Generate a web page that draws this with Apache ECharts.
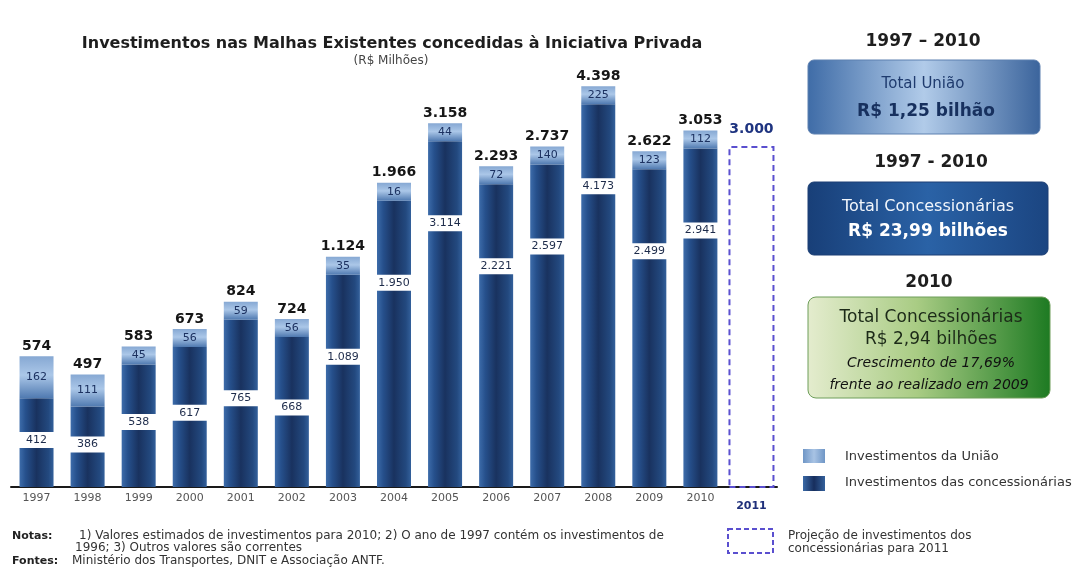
<!DOCTYPE html>
<html><head><meta charset="utf-8">
<script src="https://cdn.jsdelivr.net/npm/echarts@6/dist/echarts.min.js"></script>
<style>html,body{margin:0;padding:0;background:#fff}#c{width:1081px;height:573px}</style>
</head><body><div id="c"></div>
<script>
// ---- data (R$ milhões) ----
const years = ['1997','1998','1999','2000','2001','2002','2003','2004','2005','2006','2007','2008','2009','2010','2011'];
const concessionarias = [412,386,538,617,765,668,1089,1950,3114,2221,2597,4173,2499,2941,null];
const uniao = [162,111,45,56,59,56,35,16,44,72,140,225,123,112,null];
const projecao2011 = [null,null,null,null,null,null,null,null,null,null,null,null,null,null,3000];

const fmt = v => String(v).replace(/\B(?=(\d{3})+(?!\d))/g, '.');
const totals = concessionarias.map((c, i) => c == null ? null : c + uniao[i]);

const W = 1081, H = 573;
const GRID = {left: 11, right: 304, top: 44, bottom: 86};
const BASE_Y = H - GRID.bottom;
const FONT = '"DejaVu Sans", Verdana, sans-serif';
const UNIAO_MIN_H = 18;

const darkFill = new echarts.graphic.LinearGradient(0, 0, 1, 0, [
  {offset: 0, color: '#3d6caa'}, {offset: 0.18, color: '#26508c'},
  {offset: 0.5, color: '#19325f'}, {offset: 0.85, color: '#23497f'}, {offset: 1, color: '#33609b'}]);
const lightFill = new echarts.graphic.LinearGradient(0, 0, 0, 1, [
  {offset: 0, color: '#86a8d3'}, {offset: 0.45, color: '#abc7e8'}, {offset: 1, color: '#4f79b0'}]);
const ghost = {color: 'rgba(0,0,0,0)'};

const chart = echarts.init(document.getElementById('c'), null, {renderer: 'canvas'});

const option = {
  backgroundColor: '#ffffff',
  animation: false,
  textStyle: {fontFamily: FONT},
  title: [
    {text: 'Investimentos nas Malhas Existentes concedidas à Iniciativa Privada', left: 387, top: 31, textAlign: 'center',
     textStyle: {fontFamily: FONT, fontSize: 16, fontWeight: 'bold', color: '#1e1e1e'}},
    {text: '(R$ Milhões)', left: 386, top: 50, textAlign: 'center',
     textStyle: {fontFamily: FONT, fontSize: 12, fontWeight: 'normal', color: '#444'}}
  ],
  grid: GRID,
  xAxis: [
    {type: 'category', data: years, axisTick: {show: false},
     axisLine: {lineStyle: {color: '#1a1a1a', width: 2}},
     axisLabel: {interval: 0, margin: 6, fontSize: 11, color: '#555', fontFamily: FONT,
       formatter: v => v === '2011' ? '{p|' + v + '}' : v,
       rich: {p: {fontSize: 11, fontWeight: 'bold', color: '#1f2f7a', fontFamily: FONT, padding: [8, 0, 0, 0]}}}},
    {type: 'category', data: years, show: false},
    {type: 'category', data: years, show: false}
  ],
  yAxis: {type: 'log', logBase: 10, min: 205, max: 6700, show: false, splitLine: {show: false}},
  series: [
    {name: 'Investimentos das concessionárias', type: 'bar', stack: 't', barWidth: 34, data: concessionarias,
     itemStyle: {color: darkFill},
     label: {show: true, formatter: p => fmt(p.value), fontSize: 11, color: '#1d2b4a', fontFamily: FONT,
       backgroundColor: '#ffffff', width: 38, align: 'center', padding: [3, 0, 2, 0]},
     labelLayout: function (p) {
       const top = p.rect.y;
       const bottom = Math.min(p.rect.y + p.rect.height, BASE_Y);
       const d = Math.min((bottom - top) * 0.47, 82);
       return {x: p.rect.x + p.rect.width / 2, y: top + d, align: 'center', verticalAlign: 'middle'};
     }},
    {name: 'Investimentos da União', type: 'bar', stack: 't', barWidth: 34, barMinHeight: UNIAO_MIN_H, data: uniao,
     itemStyle: {color: lightFill},
     label: {show: true, position: 'inside', formatter: p => fmt(p.value), fontSize: 11, color: '#1c3160', fontFamily: FONT}},
    // identical transparent stack on a hidden twin axis: carries the total label on top of the stack
    {name: 'conc-total', type: 'bar', xAxisIndex: 2, stack: 'g', barWidth: 34, data: concessionarias, silent: true, itemStyle: ghost},
    {name: 'Total', type: 'bar', xAxisIndex: 2, stack: 'g', barWidth: 34, barMinHeight: UNIAO_MIN_H, data: uniao, silent: true, itemStyle: ghost,
     label: {show: true, position: 'top', distance: 3, formatter: p => fmt(totals[p.dataIndex]), fontSize: 14, fontWeight: 'bold', color: '#161616', fontFamily: FONT}},
    {name: 'Projeção 2011', type: 'bar', xAxisIndex: 1, barWidth: 46, data: projecao2011,
     itemStyle: {color: 'rgba(0,0,0,0)', borderColor: '#5a4fcf', borderWidth: 2, borderType: [6, 4]},
     label: {show: true, position: 'top', distance: 10, formatter: p => fmt(p.value), fontSize: 14, fontWeight: 'bold', color: '#1f3480', fontFamily: FONT}}
  ],
  graphic: [
    // right panel headers and boxes
    {type: 'text', style: {text: '1997 – 2010', x: 923, y: 42, align: 'center', verticalAlign: 'middle', fill: '#1e1e1e', font: 'bold 17px ' + FONT}},
    {type: 'rect', shape: {x: 808, y: 60, width: 232, height: 74, r: 6},
     style: {fill: new echarts.graphic.LinearGradient(0, 0, 1, 0, [{offset: 0, color: '#3f6ca7'}, {offset: 0.5, color: '#b1cbe9'}, {offset: 1, color: '#3b649c'}]), stroke: '#5d80b0', lineWidth: 1}},
    {type: 'text', style: {text: 'Total União', x: 923, y: 84, align: 'center', verticalAlign: 'middle', fill: '#1f3b6e', font: '15px ' + FONT}},
    {type: 'text', style: {text: 'R$ 1,25 bilhão', x: 926, y: 112, align: 'center', verticalAlign: 'middle', fill: '#17305e', font: 'bold 17px ' + FONT}},

    {type: 'text', style: {text: '1997 - 2010', x: 931, y: 163, align: 'center', verticalAlign: 'middle', fill: '#1e1e1e', font: 'bold 17px ' + FONT}},
    {type: 'rect', shape: {x: 808, y: 182, width: 240, height: 73, r: 6},
     style: {fill: new echarts.graphic.LinearGradient(0, 0, 1, 0, [{offset: 0, color: '#183f78'}, {offset: 0.5, color: '#2a62a6'}, {offset: 1, color: '#1b4581'}]), stroke: '#1c3f74', lineWidth: 1}},
    {type: 'text', style: {text: 'Total Concessionárias', x: 928, y: 207, align: 'center', verticalAlign: 'middle', fill: '#f2f6fb', font: '16px ' + FONT}},
    {type: 'text', style: {text: 'R$ 23,99 bilhões', x: 928, y: 232, align: 'center', verticalAlign: 'middle', fill: '#ffffff', font: 'bold 17px ' + FONT}},

    {type: 'text', style: {text: '2010', x: 929, y: 283, align: 'center', verticalAlign: 'middle', fill: '#1e1e1e', font: 'bold 17px ' + FONT}},
    {type: 'rect', shape: {x: 808, y: 297, width: 242, height: 101, r: 8},
     style: {fill: new echarts.graphic.LinearGradient(0, 0, 1, 0, [{offset: 0, color: '#e4ecce'}, {offset: 0.45, color: '#a9cc84'}, {offset: 1, color: '#1d7a22'}]), stroke: '#6e9e5a', lineWidth: 1}},
    {type: 'text', style: {text: 'Total Concessionárias', x: 931, y: 318, align: 'center', verticalAlign: 'middle', fill: '#1c2a18', font: '17px ' + FONT}},
    {type: 'text', style: {text: 'R$ 2,94 bilhões', x: 931, y: 340, align: 'center', verticalAlign: 'middle', fill: '#1c2a18', font: '17px ' + FONT}},
    {type: 'text', style: {text: 'Crescimento de 17,69%', x: 931, y: 363, align: 'center', verticalAlign: 'middle', fill: '#111', font: 'italic 14px ' + FONT}},
    {type: 'text', style: {text: 'frente ao realizado em 2009', x: 929, y: 385, align: 'center', verticalAlign: 'middle', fill: '#111', font: 'italic 14px ' + FONT}},

    // legend
    {type: 'rect', shape: {x: 803, y: 449, width: 22, height: 14}, style: {fill: new echarts.graphic.LinearGradient(0, 0, 1, 0, [{offset: 0, color: '#6f96c6'}, {offset: 0.5, color: '#a8c3e4'}, {offset: 1, color: '#6f96c6'}])}},
    {type: 'text', style: {text: 'Investimentos da União', x: 845, y: 457, verticalAlign: 'middle', fill: '#333', font: '13px ' + FONT}},
    {type: 'rect', shape: {x: 803, y: 476, width: 22, height: 15}, style: {fill: new echarts.graphic.LinearGradient(0, 0, 1, 0, [{offset: 0, color: '#3a69a6'}, {offset: 0.5, color: '#172e5d'}, {offset: 1, color: '#33609b'}])}},
    {type: 'text', style: {text: 'Investimentos das concessionárias', x: 845, y: 483, verticalAlign: 'middle', fill: '#333', font: '13px ' + FONT}},
    {type: 'rect', shape: {x: 728, y: 529, width: 45, height: 24}, style: {fill: 'none', stroke: '#5a4fcf', lineWidth: 2, lineDash: [5, 3]}},
    {type: 'text', style: {text: 'Projeção de investimentos dos', x: 788, y: 536, verticalAlign: 'middle', fill: '#333', font: '12px ' + FONT}},
    {type: 'text', style: {text: 'concessionárias para 2011', x: 788, y: 549, verticalAlign: 'middle', fill: '#333', font: '12px ' + FONT}},

    // notes
    {type: 'text', style: {text: 'Notas:', x: 12, y: 536, verticalAlign: 'middle', fill: '#222', font: 'bold 11px ' + FONT}},
    {type: 'text', style: {text: '1) Valores estimados de investimentos para 2010; 2) O ano de 1997 contém os investimentos de', x: 79, y: 536, verticalAlign: 'middle', fill: '#333', font: '12px ' + FONT}},
    {type: 'text', style: {text: '1996; 3) Outros valores são correntes', x: 75, y: 548, verticalAlign: 'middle', fill: '#333', font: '12px ' + FONT}},
    {type: 'text', style: {text: 'Fontes:', x: 12, y: 561, verticalAlign: 'middle', fill: '#222', font: 'bold 11px ' + FONT}},
    {type: 'text', style: {text: 'Ministério dos Transportes, DNIT e Associação ANTF.', x: 72, y: 561, verticalAlign: 'middle', fill: '#333', font: '12px ' + FONT}}
  ]
};
chart.setOption(option);
</script>
</body></html>
